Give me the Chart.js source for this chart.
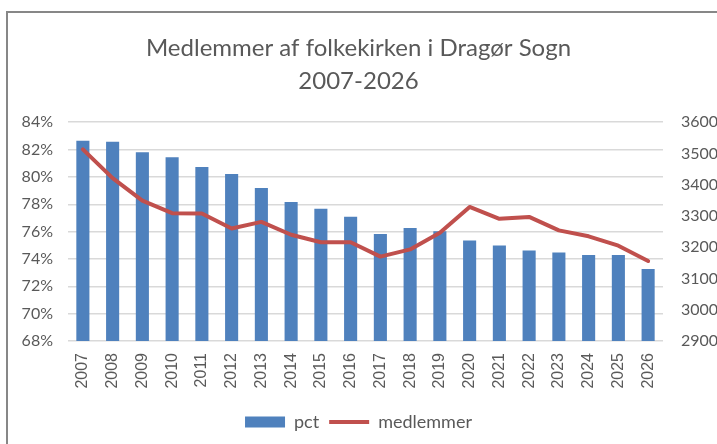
<!DOCTYPE html>
<html>
<head>
<meta charset="utf-8">
<script src="https://cdn.jsdelivr.net/npm/chart.js@4"></script>
<style>
  html, body { margin: 0; padding: 0; background: #fff; overflow: hidden; }
  #wrap { position: relative; width: 717px; height: 444px; }
  #frame {
    position: absolute; left: 6px; top: 11px; width: 800px; height: 600px;
    border: 2px solid #878787; box-sizing: border-box; pointer-events: none;
  }
</style>
</head>
<body>
<div id="wrap">
  <canvas id="chart" width="717" height="444"></canvas>
  <div id="frame"></div>
</div>
<script>
/* ── Data ─────────────────────────────────────────────── */
const years = ['2007', '2008', '2009', '2010', '2011', '2012', '2013', '2014', '2015', '2016',
               '2017', '2018', '2019', '2020', '2021', '2022', '2023', '2024', '2025', '2026'];
const pct = [82.64, 82.57, 81.8, 81.43, 80.73, 80.22, 79.18, 78.16, 77.67, 77.09,
             75.83, 76.27, 76.02, 75.35, 74.98, 74.62, 74.47, 74.28, 74.28, 73.26];
const medlemmer = [3513, 3421, 3349, 3309, 3308, 3260, 3281, 3240, 3216, 3216,
                   3170, 3193, 3246, 3329, 3291, 3297, 3254, 3235, 3205, 3156];
const titleLines = ['Medlemmer af folkekirken i Dragør Sogn', '2007-2026'];

/* ── Style ────────────────────────────────────────────── */
const BLUE = '#4F81BD';
const RED = '#C0504D';
const GREY_TEXT = '#595959';
const GRID = '#D9D9D9';
const FONT = 'Lato, "Open Sans", sans-serif';

new Chart(document.getElementById('chart'), {
  data: {
    labels: years,
    datasets: [
      {
        type: 'bar',
        label: 'pct',
        data: pct,
        yAxisID: 'y',
        backgroundColor: BLUE,
        borderWidth: 0,
        barPercentage: 0.44,
        categoryPercentage: 1,
        order: 1,
      },
      {
        type: 'line',
        label: 'medlemmer',
        data: medlemmer,
        yAxisID: 'y1',
        borderColor: RED,
        backgroundColor: RED,
        borderWidth: 4,
        pointRadius: 0,
        tension: 0,
        borderJoinStyle: 'round',
        borderCapStyle: 'round',
        order: 0,
      },
    ],
  },
  options: {
    responsive: false,
    animation: false,
    layout: { padding: { left: 0, right: 0, top: 0, bottom: 3 } },
    plugins: {
      title: {
        display: true,
        text: titleLines,
        color: GREY_TEXT,
        font: { family: FONT, size: 24, weight: 'normal', lineHeight: 1.4 },
        padding: { top: 31, bottom: 24 },
      },
      legend: {
        position: 'bottom',
        labels: {
          color: GREY_TEXT,
          font: { family: FONT, size: 18 },
          padding: 10,
          usePointStyle: true,
          pointStyleWidth: 40,
          boxHeight: 11,
          sort: (a, b) => a.datasetIndex - b.datasetIndex,
          generateLabels: chart => {
            const items = Chart.defaults.plugins.legend.labels.generateLabels(chart);
            items.forEach(it => {
              if (it.datasetIndex === 0) {
                it.pointStyle = 'rect';
                it.lineWidth = 0;
                it.fillStyle = BLUE;
              } else {
                it.pointStyle = 'line';
                it.lineWidth = 4;
                it.strokeStyle = RED;
              }
            });
            return items;
          },
        },
      },
      tooltip: { enabled: false },
    },
    scales: {
      x: {
        grid: { display: false, drawTicks: false },
        border: { display: false },
        ticks: {
          color: GREY_TEXT,
          font: { family: '"Liberation Sans", Arial, sans-serif', size: 16 },
          minRotation: 90,
          maxRotation: 90,
          padding: 12,
        },
        afterFit: s => { s.height = 62; },
      },
      y: {
        position: 'left',
        min: 68,
        max: 84,
        grid: { color: GRID, lineWidth: 1.5, drawTicks: false },
        border: { display: false },
        ticks: {
          stepSize: 2,
          color: GREY_TEXT,
          font: { family: FONT, size: 16 },
          padding: 15,
          callback: v => v + '%',
        },
        afterFit: s => { s.width = 68; },
      },
      y1: {
        position: 'right',
        min: 2900,
        max: 3600,
        grid: { display: false, drawTicks: false },
        border: { display: false },
        ticks: {
          stepSize: 100,
          color: GREY_TEXT,
          font: { family: FONT, size: 16 },
          padding: 18,
          callback: v => String(v),
        },
        afterFit: s => { s.width = 54; },
      },
    },
  },
});
</script>
</body>
</html>
